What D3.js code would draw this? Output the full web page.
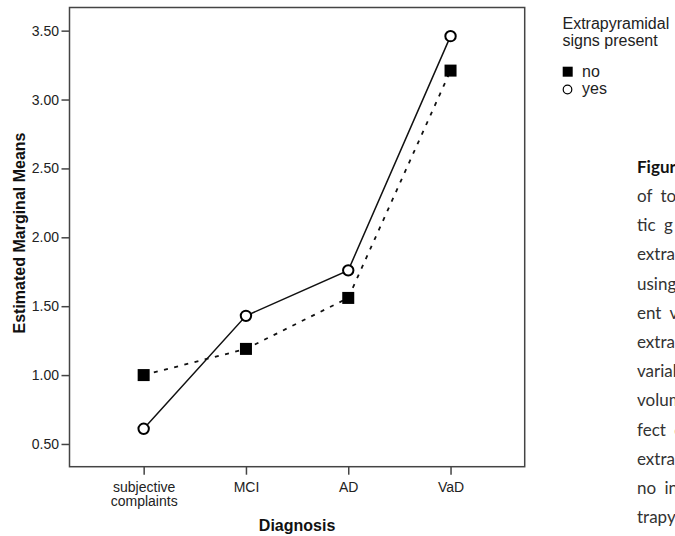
<!DOCTYPE html>
<html>
<head>
<meta charset="utf-8">
<script src="https://cdn.jsdelivr.net/npm/d3@7"></script>
<style>
  html, body { margin: 0; padding: 0; background: #fff; }
  svg { display: block; }
</style>
</head>
<body>
<div id="chart"></div>
<script>
// values
const categories = ["subjective complaints", "MCI", "AD", "VaD"];
const noValues = [1.00, 1.19, 1.56, 3.21];
const yesValues = [0.61, 1.43, 1.76, 3.46];
const yTicks = [0.5, 1.0, 1.5, 2.0, 2.5, 3.0, 3.5];
const legendTitle = ["Extrapyramidal", "signs present"];
const legendLabels = ["no", "yes"];
const captionLines = ["Figur", "of to", "tic g", "extrap", "using", "ent v", "extrap",
  "variab", "volum", "fect o", "extrap", "no in", "trapy"];

const size = { width: 675, height: 536 };
const plot = { left: 69.5, right: 524.7, top: 7.5, bottom: 466.7 };
const font = "'Liberation Sans', Arial, sans-serif";

const svg = d3.select("#chart").append("svg")
  .attr("width", size.width)
  .attr("height", size.height);

svg.append("rect")
  .attr("width", size.width)
  .attr("height", size.height)
  .attr("fill", "#fff");

const x = d3.scalePoint()
  .domain(categories)
  .range([plot.left, plot.right])
  .padding(0.725);

const y = d3.scaleLinear()
  .domain([0.335, 3.668])
  .range([plot.bottom, plot.top]);

// y axis
const yAxis = svg.append("g")
  .attr("transform", `translate(${plot.left},0)`)
  .call(d3.axisLeft(y).tickValues(yTicks).tickFormat(d3.format(".2f")).tickSize(8).tickPadding(2.5));
yAxis.attr("font-size", 14).attr("font-family", font);
yAxis.selectAll("text").attr("fill", "#222");

// x axis
const xAxis = svg.append("g")
  .attr("transform", `translate(0,${plot.bottom})`)
  .call(d3.axisBottom(x).tickSize(8));
xAxis.attr("font-size", 14).attr("font-family", font);
xAxis.selectAll("text")
  .attr("fill", "#222")
  .attr("y", 25.3)
  .attr("dy", null)
  .each(function (d) {
    const words = d.split(" ");
    const t = d3.select(this).text(null);
    words.forEach((w, i) => {
      t.append("tspan").attr("x", 0).attr("dy", i === 0 ? 0 : 14.5).text(w);
    });
  });

svg.selectAll(".domain").remove();
svg.selectAll(".tick line").attr("stroke", "#444").attr("stroke-width", 1.5);

// frame
svg.append("rect")
  .attr("x", plot.left)
  .attr("y", plot.top)
  .attr("width", plot.right - plot.left)
  .attr("height", plot.bottom - plot.top)
  .attr("fill", "none")
  .attr("stroke", "#444")
  .attr("stroke-width", 1.5);

// axis titles
svg.append("text")
  .attr("transform", `translate(25,233) rotate(-90)`)
  .attr("text-anchor", "middle")
  .attr("font-family", font)
  .attr("font-weight", "bold")
  .attr("font-size", 16)
  .attr("fill", "#111")
  .text("Estimated Marginal Means");

svg.append("text")
  .attr("x", (plot.left + plot.right) / 2)
  .attr("y", 531)
  .attr("text-anchor", "middle")
  .attr("font-family", font)
  .attr("font-weight", "bold")
  .attr("font-size", 16)
  .attr("fill", "#111")
  .text("Diagnosis");

// lines
const line = d3.line()
  .x((d, i) => x(categories[i]))
  .y(d => y(d));

svg.append("path")
  .datum(noValues)
  .attr("d", line)
  .attr("fill", "none")
  .attr("stroke", "#111")
  .attr("stroke-width", 1.8)
  .attr("stroke-dasharray", "4,6.5");

svg.append("path")
  .datum(yesValues)
  .attr("d", line)
  .attr("fill", "none")
  .attr("stroke", "#111")
  .attr("stroke-width", 1.5);

// markers
const sq = 12;
svg.append("g").selectAll("rect")
  .data(noValues)
  .join("rect")
  .attr("x", (d, i) => x(categories[i]) - sq / 2)
  .attr("y", d => y(d) - sq / 2)
  .attr("width", sq)
  .attr("height", sq)
  .attr("fill", "#000");

svg.append("g").selectAll("circle")
  .data(yesValues)
  .join("circle")
  .attr("cx", (d, i) => x(categories[i]))
  .attr("cy", d => y(d))
  .attr("r", 5.2)
  .attr("fill", "#fff")
  .attr("stroke", "#000")
  .attr("stroke-width", 2);

// legend
const legend = svg.append("g")
  .attr("font-family", font)
  .attr("font-size", 16)
  .attr("fill", "#222");

legend.selectAll("text.title")
  .data(legendTitle)
  .join("text")
  .attr("class", "title")
  .attr("x", 562.5)
  .attr("y", (d, i) => 29 + i * 16.5)
  .text(d => d);

legend.append("rect")
  .attr("x", 562.7)
  .attr("y", 66.7)
  .attr("width", 10)
  .attr("height", 10)
  .attr("fill", "#000");

legend.append("circle")
  .attr("cx", 567.5)
  .attr("cy", 89.5)
  .attr("r", 4.3)
  .attr("fill", "#fff")
  .attr("stroke", "#000")
  .attr("stroke-width", 1.2);

legend.selectAll("text.item")
  .data(legendLabels)
  .join("text")
  .attr("class", "item")
  .attr("x", 582)
  .attr("y", (d, i) => 76.5 + i * 17.5)
  .text(d => d);

// caption column, cut by the right edge as in the source
const caption = svg.append("g")
  .attr("font-family", "Lato, 'Open Sans', sans-serif")
  .attr("font-size", 17)
  .attr("fill", "#333")
  .attr("word-spacing", 4);

caption.selectAll("text")
  .data(captionLines)
  .join("text")
  .attr("x", 637)
  .attr("y", (d, i) => 172.7 + i * 29.2)
  .attr("font-weight", (d, i) => i === 0 ? "bold" : null)
  .attr("fill", (d, i) => i === 0 ? "#111" : "#333")
  .text(d => d);
</script>
</body>
</html>
